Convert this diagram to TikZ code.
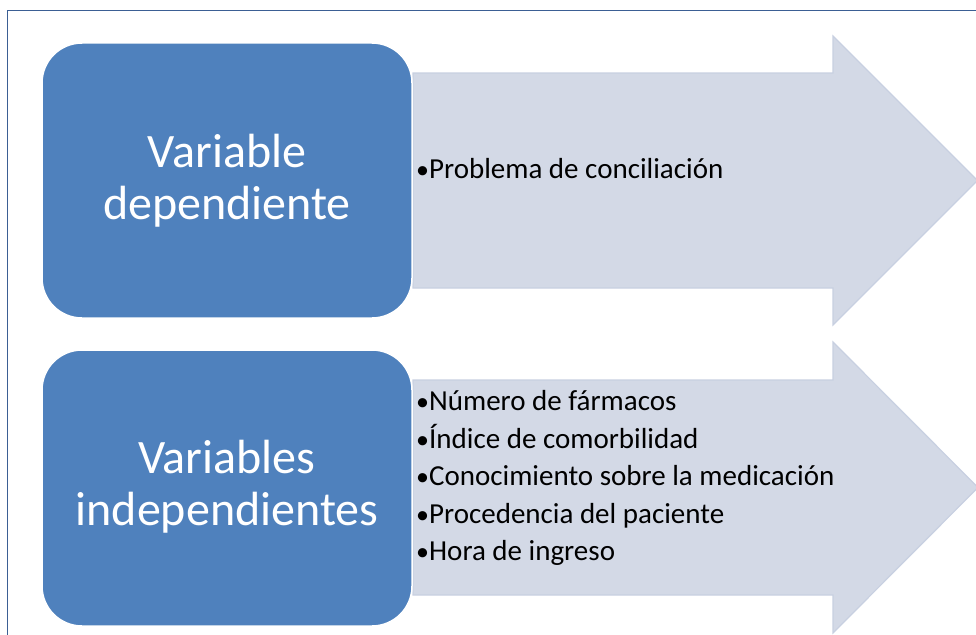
\documentclass[tikz,border=0pt]{standalone}
\usepackage{fontspec}
\setmainfont{Carlito}
\definecolor{boxblue}{HTML}{4F81BD}
\definecolor{arrowfill}{HTML}{D3D9E6}
\definecolor{arrowline}{HTML}{C8D0E1}
\definecolor{frameline}{HTML}{3B5F94}
\newcommand{\bul}{{\fontsize{26}{26}\selectfont•}}
\begin{document}
\begin{tikzpicture}[x=1pt,y=-1pt,
  bigarrow/.style={fill=arrowfill,draw=arrowline,line width=1.2pt,line join=miter},
  catbox/.style={fill=boxblue,draw=white,line width=1.5pt,rounded corners=40pt},
  cattext/.style={text=white,align=center,font=\fontsize{48}{52}\selectfont},
  listtext/.style={anchor=west,align=left,font=\fontsize{29}{37.5}\selectfont,text=black,inner sep=0pt}]
\useasboundingbox (0,0) rectangle (976,634);
% frame
\draw[frameline,line width=1pt] (7,640) -- (7,11) -- (980,11);
% arrows
\draw[bigarrow] (413,73) -- (833,73) -- (833,36) -- (977.5,180.5) -- (833,325) -- (833,288) -- (413,288) -- cycle;
\draw[bigarrow] (413,380) -- (833,380) -- (833,342) -- (978,487.5) -- (833,633) -- (833,595) -- (413,595) -- cycle;
% boxes
\draw[catbox] (42,43) rectangle (412,318);
\draw[catbox] (42,350) rectangle (412,626);
\node[cattext] (dep) at (227,181) {Variable\\dependiente};
\node[cattext] (indep) at (227,487) {Variables\\independientes};
\node[listtext] (l1) at (416,169) {\bul Problema de conciliación};
\node[listtext] (l2) at (416,478) {\bul Número de fármacos\\\bul Índice de comorbilidad\\\bul Conocimiento sobre la medicación\\\bul Procedencia del paciente\\\bul Hora de ingreso};
\end{tikzpicture}
\end{document}
